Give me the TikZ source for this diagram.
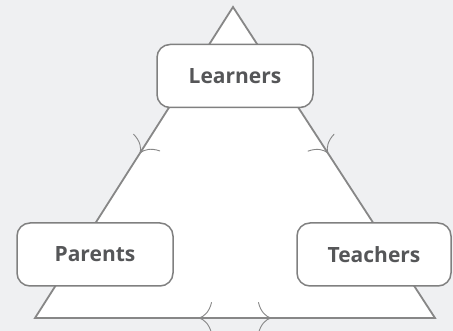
\documentclass[tikz,border=0pt]{standalone}
\usepackage{fontspec}
\setmainfont{Open Sans}
\usetikzlibrary{arrows.meta,decorations.markings}
\definecolor{bgc}{HTML}{EFF0F2}
\definecolor{edgec}{HTML}{878787}
\definecolor{boxc}{HTML}{808080}
\definecolor{txtc}{HTML}{555658}
\tikzset{
  role/.style={draw=boxc, line width=1.5pt, fill=white, rounded corners=13pt,
    minimum width=156pt, minimum height=63pt, inner sep=0pt,
    font=\fontsize{21}{24}\selectfont\bfseries, text=txtc},
  side/.style={draw=edgec, line width=1.8pt, fill=white, line join=miter},
  flowtip/.tip={Computer Modern Rightarrow[length=13pt, width=32pt, line width=0.9pt]},
  mid/.style={decoration={markings, mark=at position #1 with {\arrow[edgec]{flowtip}}}, postaction={decorate}},
}
\begin{document}
\begin{tikzpicture}[x=1pt,y=-1pt]
\useasboundingbox[fill=bgc] (0,0) rectangle (453,331);
\coordinate (apex) at (233,7);
\coordinate (bl) at (35,318);
\coordinate (br) at (435,318);
\coordinate (bmid) at (235,318);
\draw[side] (apex) -- (br) -- (bl) -- cycle;
\path[mid=0.47] (apex) -- (bl);
\path[mid=0.47] (apex) -- (br);
\path[mid=0.18] (bmid) -- (bl);
\path[mid=0.18] (bmid) -- (br);
\node[role] (learners) at (235,76) {Learners};
\node[role] (parents) at (95,254.5) {Parents};
\node[role, minimum width=154pt] (teachers) at (374,254.5) {Teachers};
\end{tikzpicture}
\end{document}
